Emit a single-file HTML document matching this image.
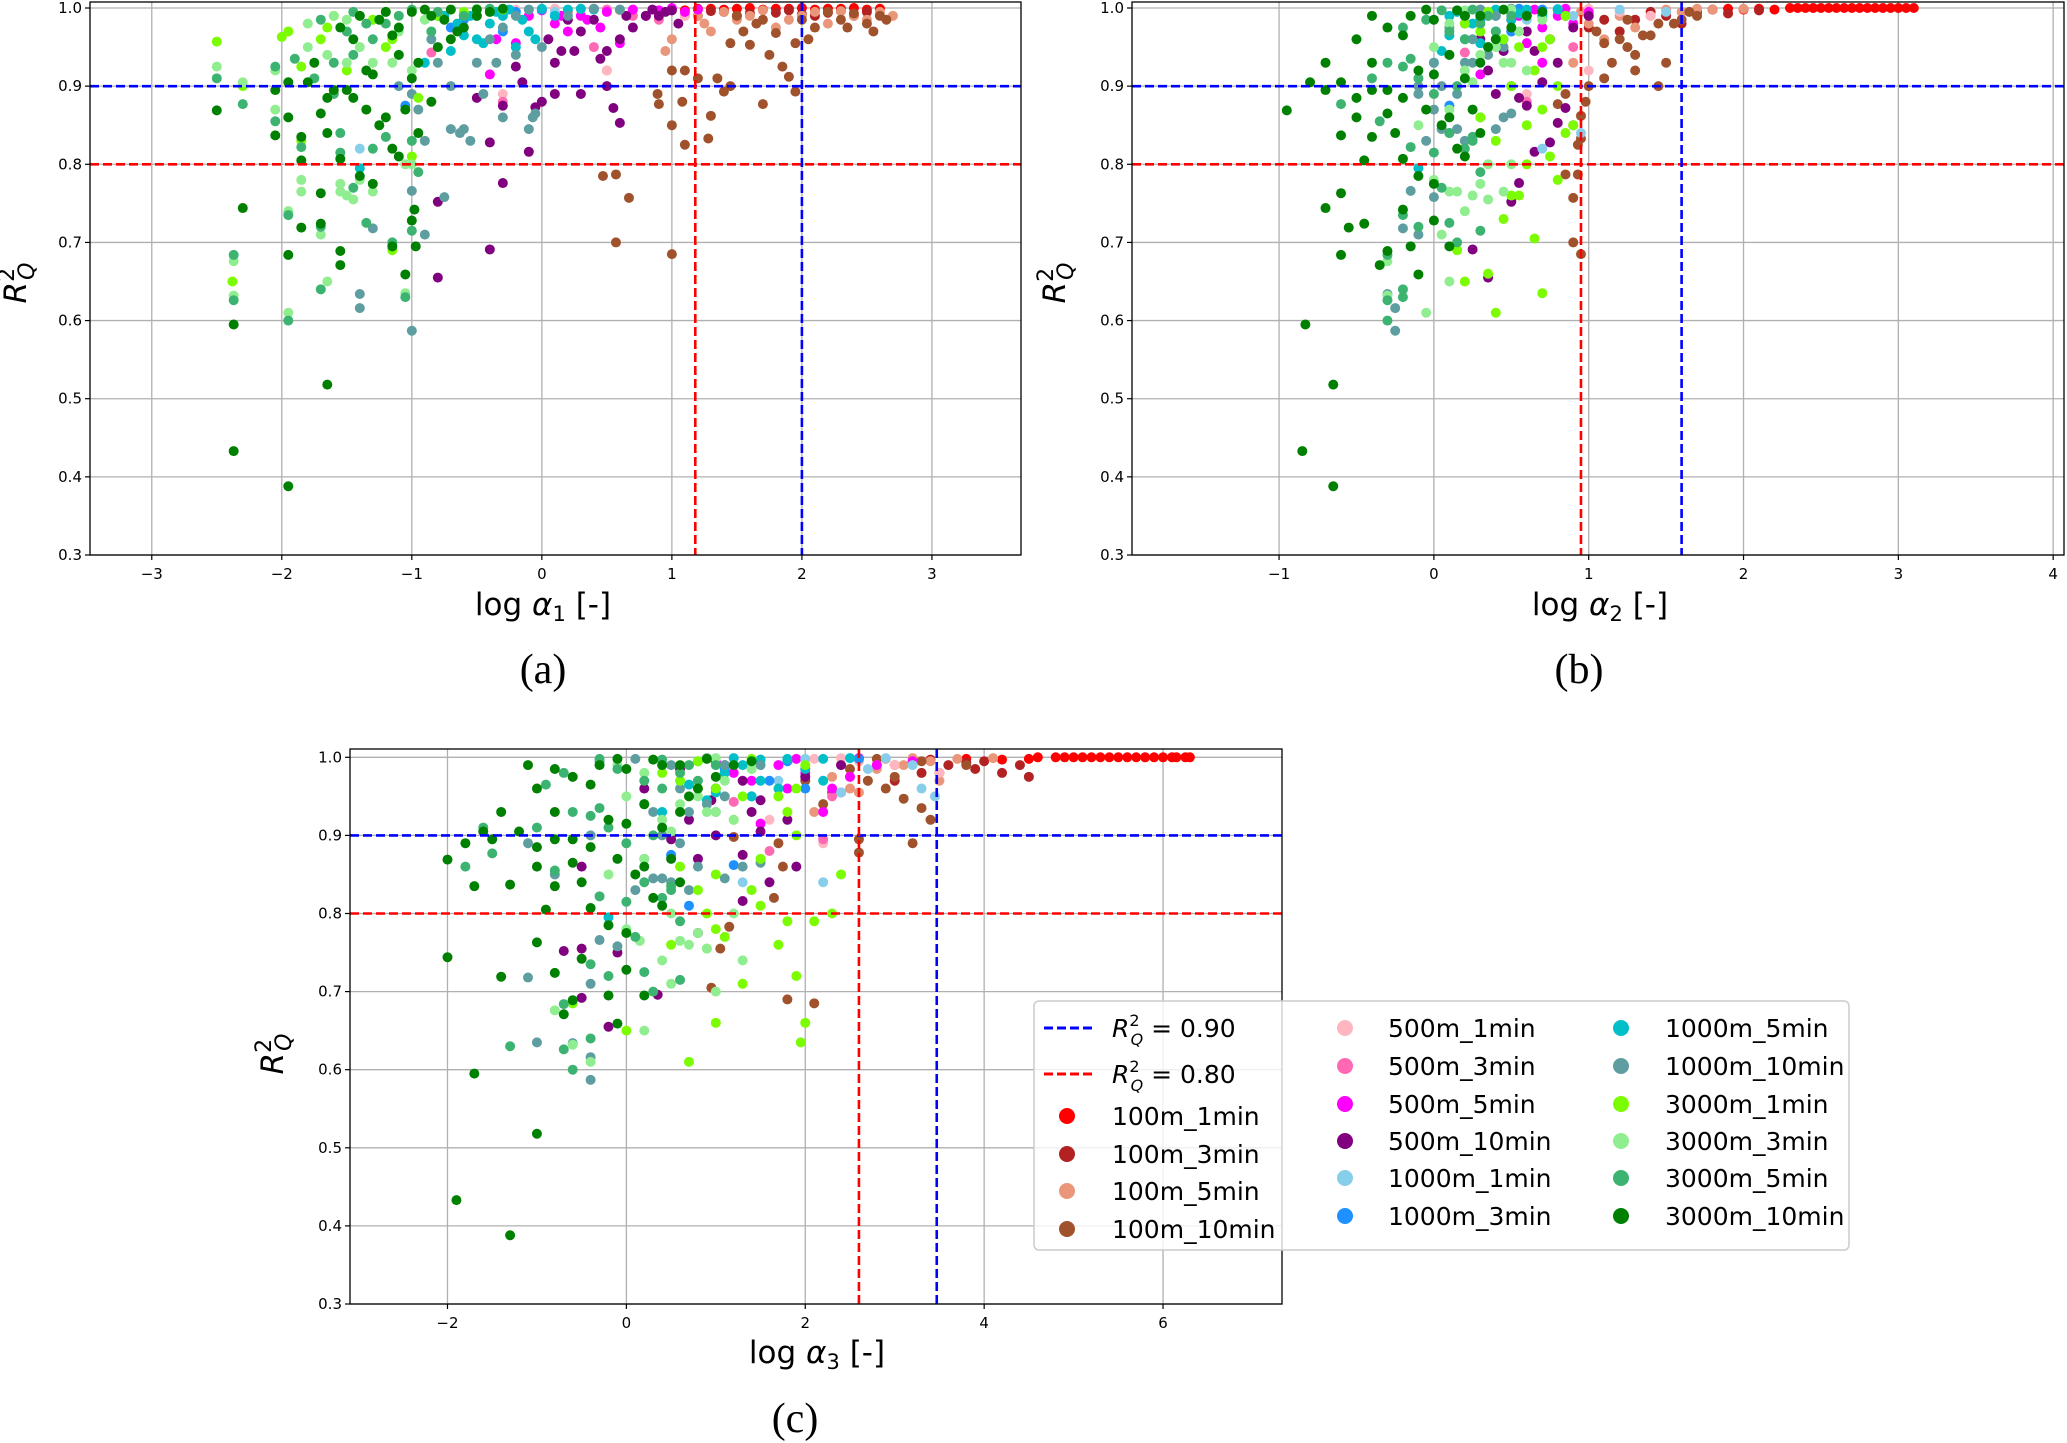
<!DOCTYPE html>
<html><head><meta charset="utf-8"><style>
html,body{margin:0;padding:0;background:#fff;}
svg{display:block;font-family:"DejaVu Sans","Liberation Sans",sans-serif;}
</style></head><body>
<svg id="fig" width="2067" height="1443" viewBox="0 0 2067 1443" xmlns="http://www.w3.org/2000/svg">
<rect width="2067" height="1443" fill="#fff"/>
<g id="panels"></g>
<g>
 <rect x="1034" y="1001" width="815" height="249" rx="5" fill="#fff" fill-opacity="0.8" stroke="#cccccc" stroke-width="1.5"/>
 <line x1="1044" y1="1028" x2="1093" y2="1028" stroke="#0000ff" stroke-width="3" stroke-dasharray="9,4"/>
 <text x="1112" y="1037" font-size="25"><tspan font-style="italic">R</tspan><tspan font-size="16" dy="-11">2</tspan><tspan font-size="16" font-style="italic" dx="-9" dy="19">Q</tspan><tspan dy="-8"> = 0.90</tspan></text>
 <line x1="1044" y1="1074" x2="1093" y2="1074" stroke="#ff0000" stroke-width="3" stroke-dasharray="9,4"/>
 <text x="1112" y="1083" font-size="25"><tspan font-style="italic">R</tspan><tspan font-size="16" dy="-11">2</tspan><tspan font-size="16" font-style="italic" dx="-9" dy="19">Q</tspan><tspan dy="-8"> = 0.80</tspan></text>
 <g id="legitems"></g>
</g>
</svg>
<script>
// ---------------- DATA ----------------
const seriesNames = ["100m_1min","100m_3min","100m_5min","100m_10min","500m_1min","500m_3min","500m_5min","500m_10min","1000m_1min","1000m_3min","1000m_5min","1000m_10min","3000m_1min","3000m_3min","3000m_5min","3000m_10min"];
const seriesColors = ["#ff0000","#b22222","#e9967a","#a0522d","#ffb6c1","#ff69b4","#ff00ff","#800080","#87ceeb","#1e90ff","#00bfc8","#5f9ea0","#7cfc00","#90ee90","#3cb371","#008000"];
const yTicks = [0.3,0.4,0.5,0.6,0.7,0.8,0.9,1.0];
const xTicksA = [-3,-2,-1,0,1,2,3];
const xTicksB = [-1,0,1,2,3,4];
const xTicksC = [-2,0,2,4,6];
const thresholdsA = [1.18,2.0];
const thresholdsB = [0.95,1.60];
const thresholdsC = [2.6,3.47];
const rLevels = [0.9,0.8];

const A0=[[1.0,0.998],[1.2,0.999],[1.4,0.998],[1.6,1],[1.8,0.999],[2.0,1],[2.2,0.999],[2.4,1],[2.6,0.999],[1.1,0.997],[1.3,0.999],[1.5,0.999],[1.7,0.998],[1.9,0.999],[2.1,0.998],[2.3,0.999],[2.5,0.998]];
const A1=[[1.2,0.99],[1.4,0.995],[1.6,0.993],[1.9,0.997],[2.1,0.99],[2.3,0.996],[2.5,0.995],[1.3,0.996],[1.5,0.99],[1.8,0.994],[2.0,0.992],[2.2,0.994],[2.4,0.99]];
const A2=[[0.5,0.92],[1.0,0.96],[1.3,0.97],[0.95,0.945],[1.2,0.99],[1.5,0.985],[1.8,0.975],[2.0,0.99],[2.2,0.98],[2.4,0.99],[2.6,0.995],[2.7,0.99],[1.1,0.99],[1.4,0.995],[1.6,0.99],[1.7,0.997],[1.9,0.985],[2.1,0.995],[2.3,0.996],[2.5,0.985],[1.25,0.98],[0.9,0.99]];
const A3=[[0.47,0.785],[0.57,0.787],[0.67,0.757],[0.57,0.70],[1.0,0.685],[1.1,0.825],[1.28,0.833],[1.0,0.85],[1.3,0.862],[0.89,0.89],[0.9,0.877],[1.08,0.88],[1.2,0.91],[1.35,0.91],[1.4,0.893],[1.45,0.9],[1.7,0.877],[1.95,0.893],[1.0,0.92],[1.1,0.92],[1.45,0.955],[1.6,0.953],[1.75,0.94],[1.85,0.925],[1.9,0.912],[1.8,0.968],[2.0,0.985],[2.1,0.975],[2.3,0.985],[2.5,0.98],[2.6,0.99],[2.65,0.985],[1.55,0.97],[2.2,0.995],[2.4,0.993],[1.65,0.98],[2.05,0.96],[2.35,0.975],[2.55,0.97],[1.95,0.955],[1.5,0.99],[1.7,0.985]];
const A4=[[-0.3,0.89],[0.5,0.92],[0.9,0.995],[0.3,0.998],[1.1,0.99],[0.6,0.997],[0.1,0.999],[-0.2,0.998]];
const A5=[[-0.85,0.943],[-0.3,0.88],[0.4,0.95],[0.7,0.99],[0.9,0.985],[0.2,0.995],[0.5,0.998]];
const A6=[[-0.4,0.915],[-0.35,0.96],[-0.2,0.955],[0.2,0.97],[0.3,0.99],[0.45,0.975],[0.6,0.955],[0.8,0.99],[1.0,1.0],[1.1,0.995],[1.2,0.998],[0.1,0.98],[0.5,0.995],[-0.1,0.99],[0.0,0.997],[0.4,0.999],[0.7,0.998],[0.9,0.997],[0.15,0.99],[0.35,0.985]];
const A7=[[-0.4,0.828],[-0.4,0.691],[-0.8,0.655],[-0.8,0.752],[-0.3,0.776],[-0.1,0.816],[-0.05,0.873],[0.0,0.88],[0.1,0.89],[-0.15,0.905],[-0.5,0.885],[-0.3,0.875],[0.3,0.89],[0.5,0.9],[0.55,0.872],[0.6,0.853],[0.1,0.93],[0.15,0.945],[0.25,0.945],[0.45,0.935],[0.5,0.945],[0.6,0.96],[0.7,0.975],[0.8,0.99],[0.9,0.99],[1.05,0.98],[0.3,0.97],[-0.2,0.925],[0.05,0.96],[0.95,0.995],[0.2,0.985],[0.65,0.99],[0.85,0.998],[1.0,0.997],[0.4,0.985]];
const A8=[[-1.4,0.82],[-1.5,0.97],[-0.3,0.99],[0.6,0.998],[-0.6,0.985],[0.1,0.995],[-0.1,0.998],[0.3,0.999],[-0.4,0.997]];
const A9=[[-1.05,0.875],[-0.6,0.985],[-0.3,0.97],[-0.5,0.99],[-0.8,0.99],[0.0,0.998],[-0.2,0.995],[-0.7,0.975]];
const A10=[[-0.3,0.99],[-0.5,0.96],[-0.6,0.965],[-0.1,0.97],[-0.2,0.95],[-0.7,0.945],[-0.4,0.98],[0.2,0.998],[0.4,0.998],[-0.9,0.93],[-1.4,0.795],[-0.45,0.955],[-0.05,0.96],[-0.15,0.985],[0.1,0.99],[-0.55,0.99],[-0.35,0.995],[-0.25,0.998],[0.0,0.999],[-0.65,0.98],[-0.75,0.99],[0.3,0.999]];
const A11=[[-1.0,0.587],[-1.4,0.634],[-1.4,0.616],[-0.9,0.71],[-0.75,0.758],[-0.7,0.845],[-0.63,0.84],[-0.6,0.845],[-0.55,0.83],[-1.0,0.766],[-0.95,0.87],[-0.9,0.83],[-1.3,0.718],[-0.1,0.845],[-0.07,0.86],[-0.05,0.865],[-0.3,0.86],[-0.35,0.93],[-0.5,0.93],[-0.8,0.93],[-0.7,0.9],[-1.1,0.9],[-0.45,0.89],[0.0,0.95],[-0.2,0.94],[-0.4,0.96],[-0.6,0.99],[-0.2,0.99],[0.2,0.99],[-1.0,0.89],[-0.1,0.998],[0.4,0.999],[0.6,0.998],[-0.85,0.96],[-0.3,0.975]];
const A12=[[-2.5,0.957],[-2.38,0.65],[-2.0,0.963],[-1.95,0.97],[-1.85,0.83],[-1.65,0.975],[-1.4,0.99],[-1.15,0.69],[-1.15,0.96],[-1.0,0.81],[-1.5,0.92],[-1.3,0.985],[-0.95,0.885],[-1.7,0.96],[-1.85,0.925],[-2.3,0.9],[-0.8,0.99],[-1.2,0.95],[-0.6,0.995],[-1.6,0.99],[-1.0,0.997],[-0.3,0.998]];
const A13=[[-2.37,0.676],[-2.37,0.632],[-1.95,0.61],[-1.95,0.74],[-1.85,0.78],[-1.85,0.765],[-1.7,0.71],[-1.65,0.65],[-1.55,0.765],[-1.55,0.775],[-1.5,0.76],[-1.45,0.755],[-1.3,0.765],[-1.05,0.635],[-1.05,0.8],[-1.0,0.8],[-2.5,0.925],[-2.05,0.87],[-2.05,0.92],[-1.8,0.95],[-1.65,0.94],[-1.5,0.93],[-1.3,0.93],[-1.15,0.93],[-1.0,0.92],[-1.1,0.97],[-1.4,0.95],[-0.9,0.985],[-1.8,0.98],[-1.6,0.99],[-2.3,0.905],[-1.4,0.78],[-1.2,0.995],[-0.7,0.998],[-0.5,0.999],[-1.5,0.985]];
const A14=[[-2.37,0.684],[-2.37,0.626],[-2.3,0.877],[-2.5,0.91],[-2.05,0.855],[-2.05,0.925],[-1.95,0.735],[-1.95,0.6],[-1.85,0.822],[-1.7,0.72],[-1.7,0.64],[-1.55,0.815],[-1.55,0.84],[-1.45,0.77],[-1.35,0.725],[-1.3,0.82],[-1.2,0.835],[-1.15,0.7],[-1.05,0.63],[-1.0,0.715],[-1.0,0.83],[-0.95,0.79],[-1.9,0.935],[-1.75,0.91],[-1.6,0.89],[-1.45,0.94],[-1.3,0.96],[-1.2,0.98],[-1.1,0.99],[-1.5,0.97],[-1.7,0.985],[-0.85,0.97],[-0.6,0.99],[-1.6,0.93],[-1.45,0.995],[-1.0,0.998],[-0.8,0.995],[-0.4,0.999],[-1.35,0.98]];
const A15=[[-2.37,0.433],[-1.95,0.388],[-1.65,0.518],[-2.37,0.595],[-2.5,0.869],[-2.3,0.744],[-1.95,0.684],[-1.85,0.719],[-1.7,0.763],[-1.7,0.724],[-1.55,0.671],[-1.55,0.689],[-1.15,0.695],[-1.05,0.659],[-1.0,0.728],[-0.98,0.742],[-0.97,0.695],[-2.05,0.837],[-2.05,0.895],[-1.95,0.86],[-1.85,0.805],[-1.85,0.835],[-1.7,0.865],[-1.65,0.84],[-1.55,0.807],[-1.4,0.785],[-1.3,0.775],[-1.35,0.87],[-1.25,0.85],[-1.2,0.86],[-1.15,0.82],[-1.1,0.81],[-1.05,0.87],[-0.95,0.84],[-0.85,0.88],[-1.95,0.905],[-1.8,0.905],[-1.65,0.885],[-1.6,0.895],[-1.5,0.895],[-1.45,0.885],[-1.35,0.92],[-1.3,0.915],[-1.1,0.94],[-1.0,0.91],[-0.95,0.93],[-0.8,0.95],[-0.7,0.96],[-0.6,0.975],[-0.5,0.99],[-1.15,0.965],[-1.25,0.985],[-0.85,0.99],[-1.75,0.93],[-0.4,0.995],[-0.75,0.985],[-1.45,0.96],[-1.4,0.99],[-1.2,0.995],[-1.0,0.995],[-0.9,0.998],[-0.7,0.998],[-0.5,0.998],[-0.3,0.999],[-1.1,0.975],[-0.65,0.97],[-1.55,0.975]];

const B0=[[1.8,0.998],[2.0,0.998],[2.2,0.998],[2.3,1],[2.4,1],[2.5,1],[2.6,1],[2.7,1],[2.8,1],[2.9,1],[3.0,1],[3.1,1],[2.35,1],[2.45,1],[2.55,1],[2.65,1],[2.75,1],[2.85,1],[2.95,1],[3.05,1],[2.1,0.999],[1.9,0.999]];
const B1=[[1.5,0.99],[1.7,0.995],[1.9,0.993],[2.1,0.997],[1.3,0.985],[1.6,0.98],[1.2,0.97],[1.4,0.995],[1.8,0.998],[1.1,0.985],[1.0,0.975]];
const B2=[[0.9,0.93],[1.1,0.96],[1.2,0.99],[1.4,0.99],[1.6,0.995],[1.8,0.998],[2.0,0.999],[1.0,0.98],[1.3,0.975],[1.5,0.998],[1.7,0.999],[0.95,0.995]];
const B3=[[0.95,0.685],[0.9,0.757],[0.85,0.787],[0.93,0.787],[0.9,0.70],[0.93,0.825],[0.95,0.833],[0.9,0.85],[0.95,0.862],[0.8,0.877],[0.85,0.89],[0.98,0.88],[1.0,0.9],[1.1,0.91],[1.15,0.93],[1.25,0.95],[1.3,0.94],[1.35,0.965],[1.4,0.965],[1.45,0.98],[1.6,0.985],[1.3,0.92],[1.7,0.99],[1.2,0.96],[1.45,0.9],[1.5,0.93],[1.1,0.955],[1.55,0.98],[1.05,0.97],[1.65,0.995],[1.25,0.985]];
const B4=[[0.6,0.89],[1.0,0.92],[1.2,0.995],[0.8,0.998],[1.4,0.99],[1.0,0.999],[0.6,0.997]];
const B5=[[0.2,0.943],[0.6,0.88],[0.9,0.95],[1.0,0.99],[0.5,0.985],[0.8,0.997]];
const B6=[[0.3,0.915],[0.4,0.96],[0.5,0.97],[0.6,0.955],[0.7,0.975],[0.8,0.99],[1.0,0.995],[0.9,0.98],[0.55,0.99],[0.2,0.98],[0.7,0.93],[0.4,0.997],[0.65,0.998],[0.85,0.999]];
const B7=[[0.25,0.691],[0.35,0.655],[0.5,0.752],[0.55,0.776],[0.65,0.816],[0.75,0.828],[0.8,0.853],[0.85,0.872],[0.6,0.875],[0.55,0.885],[0.4,0.89],[0.5,0.9],[0.7,0.905],[0.8,0.93],[0.65,0.945],[0.75,0.96],[0.9,0.975],[1.0,0.99],[0.35,0.92],[0.45,0.945],[0.6,0.97],[0.3,0.96],[0.85,0.99],[0.7,0.995],[0.5,0.985]];
const B8=[[0.7,0.82],[0.5,0.97],[0.9,0.99],[1.2,0.998],[0.6,0.985],[1.5,0.995],[0.95,0.84],[0.3,0.998],[0.8,0.999]];
const B9=[[0.1,0.875],[0.3,0.985],[0.5,0.97],[0.4,0.99],[0.2,0.99],[0.7,0.998],[0.55,0.999]];
const B10=[[0.3,0.99],[0.2,0.96],[0.1,0.965],[0.4,0.97],[0.35,0.95],[0.05,0.945],[0.25,0.98],[0.6,0.998],[0.8,0.998],[0.0,0.93],[-0.1,0.795],[0.3,0.955],[0.45,0.96],[0.5,0.985],[0.7,0.99],[0.15,0.995],[0.4,0.998],[0.55,0.993],[0.1,0.99]];
const B11=[[-0.25,0.587],[-0.3,0.634],[-0.25,0.616],[-0.1,0.71],[0.0,0.758],[0.05,0.845],[0.1,0.84],[0.15,0.845],[0.2,0.83],[-0.15,0.766],[0.0,0.87],[-0.05,0.83],[-0.2,0.718],[0.4,0.845],[0.45,0.86],[0.5,0.865],[0.3,0.86],[0.25,0.93],[0.2,0.93],[0.0,0.93],[0.05,0.9],[-0.1,0.9],[0.15,0.89],[0.45,0.95],[0.35,0.94],[0.25,0.96],[0.2,0.99],[0.4,0.99],[0.6,0.99],[-0.1,0.89],[0.1,0.975],[0.3,0.998],[0.5,0.999]];
const B12=[[0.2,0.65],[0.7,0.635],[0.4,0.61],[0.35,0.66],[0.15,0.69],[0.5,0.76],[0.55,0.76],[0.6,0.8],[0.75,0.81],[0.8,0.78],[0.45,0.73],[0.65,0.705],[0.85,0.84],[0.9,0.85],[0.6,0.85],[0.7,0.87],[0.8,0.9],[0.5,0.9],[0.65,0.92],[0.3,0.86],[0.4,0.83],[0.55,0.95],[0.7,0.95],[0.3,0.97],[0.85,0.99],[0.2,0.98],[0.75,0.96],[0.45,0.96],[0.6,0.99],[0.35,0.995]];
const B13=[[-0.3,0.632],[-0.05,0.61],[0.1,0.65],[0.2,0.74],[0.0,0.78],[0.1,0.765],[0.05,0.71],[0.15,0.765],[0.3,0.775],[0.25,0.76],[0.35,0.755],[0.45,0.765],[0.5,0.8],[0.35,0.8],[-0.3,0.676],[0.1,0.87],[0.2,0.92],[0.0,0.95],[0.3,0.94],[0.45,0.93],[0.5,0.93],[0.6,0.92],[0.55,0.97],[0.4,0.95],[0.7,0.985],[0.1,0.98],[0.35,0.99],[0.25,0.905],[-0.1,0.85],[0.2,0.997],[0.5,0.998]];
const B14=[[-0.3,0.684],[-0.3,0.626],[-0.6,0.877],[-0.4,0.91],[-0.35,0.855],[-0.2,0.925],[-0.2,0.735],[-0.3,0.6],[-0.15,0.822],[-0.1,0.72],[-0.2,0.64],[0.0,0.815],[0.1,0.84],[0.05,0.77],[0.1,0.725],[0.2,0.82],[0.25,0.835],[0.15,0.7],[-0.2,0.63],[0.3,0.715],[0.25,0.83],[0.3,0.79],[-0.15,0.935],[-0.1,0.91],[0.0,0.89],[0.1,0.94],[0.2,0.96],[0.3,0.98],[0.35,0.99],[0.1,0.97],[-0.05,0.985],[0.4,0.97],[0.5,0.99],[-0.3,0.93],[0.15,0.9],[0.05,0.997],[0.25,0.998],[-0.2,0.975]];
const B15=[[-0.85,0.433],[-0.65,0.388],[-0.65,0.518],[-0.83,0.595],[-0.95,0.869],[-0.7,0.744],[-0.6,0.684],[-0.55,0.719],[-0.6,0.763],[-0.45,0.724],[-0.35,0.671],[-0.3,0.689],[-0.15,0.695],[-0.1,0.659],[0.0,0.728],[-0.2,0.742],[0.1,0.695],[-0.6,0.837],[-0.7,0.895],[-0.5,0.86],[-0.45,0.805],[-0.4,0.835],[-0.3,0.865],[-0.25,0.84],[-0.2,0.807],[-0.1,0.785],[0.0,0.775],[-0.05,0.87],[0.05,0.85],[0.1,0.86],[0.15,0.82],[0.2,0.81],[0.25,0.87],[0.3,0.84],[-0.8,0.905],[-0.6,0.905],[-0.5,0.885],[-0.4,0.895],[-0.3,0.895],[-0.2,0.885],[-0.1,0.92],[0.0,0.915],[0.1,0.94],[0.2,0.91],[0.3,0.93],[0.35,0.95],[0.4,0.96],[0.5,0.975],[0.6,0.99],[-0.2,0.965],[0.0,0.985],[0.3,0.99],[-0.4,0.93],[0.7,0.995],[-0.7,0.93],[-0.5,0.96],[0.2,0.99],[-0.15,0.99],[-0.3,0.975],[-0.05,0.998],[0.15,0.997],[0.45,0.998],[-0.4,0.99]];

const C0=[[3.8,0.998],[4.2,0.997],[4.5,0.998],[4.6,1],[4.8,1],[5.0,1],[5.2,1],[5.4,1],[5.6,1],[5.8,1],[6.0,1],[6.15,1],[6.3,1],[4.9,1],[5.1,1],[5.3,1],[5.5,1],[5.7,1],[5.9,1],[6.1,1],[6.25,1]];
const C1=[[4.5,0.975],[4.2,0.98],[3.9,0.985],[3.6,0.99],[4.0,0.995],[3.3,0.98],[3.0,0.97],[4.4,0.99],[3.4,0.997],[3.8,0.993]];
const C2=[[2.1,0.93],[2.5,0.96],[2.8,0.985],[3.1,0.99],[3.4,0.995],[3.7,0.998],[4.1,0.999],[2.3,0.975],[2.7,0.97],[2.6,0.955],[3.5,0.97],[2.9,0.998],[3.2,0.999],[2.4,0.99]];
const C3=[[2.6,0.878],[2.7,0.97],[2.9,0.96],[3.1,0.947],[3.3,0.935],[3.4,0.92],[3.2,0.89],[2.5,0.985],[3.0,0.99],[2.3,0.955],[2.2,0.94],[2.0,0.97],[1.7,0.89],[1.75,0.86],[1.2,0.898],[1.15,0.783],[2.6,0.895],[3.0,0.975],[3.5,0.98],[3.8,0.99],[1.65,0.82],[1.05,0.755],[0.95,0.705],[1.8,0.69],[2.1,0.685],[2.8,0.998],[3.3,0.995]];
const C4=[[2.2,0.89],[1.6,0.92],[2.6,0.995],[2.1,0.998],[3.0,0.99],[3.5,0.98],[2.4,0.999],[1.8,0.997]];
const C5=[[1.2,0.943],[1.6,0.88],[2.3,0.95],[2.8,0.99],[2.0,0.985],[2.2,0.895],[1.5,0.997]];
const C6=[[1.5,0.915],[1.8,0.96],[1.4,0.97],[2.4,0.955],[2.5,0.975],[2.8,0.99],[3.2,0.995],[2.0,0.98],[1.7,0.99],[1.2,0.98],[2.2,0.93],[2.3,0.96],[1.9,0.998],[2.6,0.999],[1.0,0.995]];
const C7=[[-0.5,0.692],[-0.2,0.655],[0.35,0.696],[-0.7,0.752],[-0.5,0.755],[0.8,0.775],[1.3,0.816],[1.6,0.84],[1.9,0.86],[-0.5,0.86],[0.8,0.87],[1.3,0.875],[0.5,0.895],[1.0,0.9],[1.5,0.905],[1.8,0.92],[1.4,0.93],[1.5,0.945],[1.0,0.96],[2.0,0.975],[2.4,0.99],[0.7,0.92],[0.95,0.945],[1.3,0.97],[0.2,0.96],[-0.1,0.75],[1.1,0.99],[0.6,0.985]];
const C8=[[2.2,0.84],[2.4,0.955],[3.3,0.96],[3.2,0.99],[2.7,0.985],[1.7,0.97],[3.45,0.95],[1.3,0.84],[2.0,0.998],[2.9,0.999],[1.5,0.995]];
const C9=[[1.2,0.862],[0.5,0.875],[0.7,0.81],[2.0,0.96],[1.6,0.97],[1.1,0.985],[2.6,0.998],[1.4,0.95],[1.8,0.995]];
const C10=[[1.3,0.99],[1.0,0.96],[0.7,0.965],[1.5,0.97],[1.4,0.95],[0.9,0.945],[1.1,0.98],[1.8,0.998],[2.2,0.998],[0.4,0.93],[-0.2,0.795],[1.0,0.955],[1.7,0.96],[2.0,0.985],[2.2,0.97],[0.8,0.995],[1.5,0.997],[2.5,0.999],[1.2,0.999]];
const C11=[[-0.4,0.587],[-0.6,0.634],[-0.4,0.616],[-0.4,0.71],[-0.1,0.758],[0.4,0.845],[0.5,0.84],[0.3,0.845],[0.7,0.83],[-0.3,0.766],[0.2,0.87],[0.1,0.83],[-1.1,0.718],[1.1,0.845],[1.3,0.86],[1.5,0.865],[0.8,0.86],[1.0,0.93],[0.7,0.93],[0.3,0.93],[0.4,0.9],[-0.4,0.9],[0.6,0.89],[1.1,0.95],[0.9,0.94],[0.6,0.96],[0.5,0.99],[1.1,0.99],[1.5,0.99],[-1.1,0.89],[-0.8,0.85],[-1.0,0.635],[0.1,0.998],[0.9,0.999],[-0.3,0.995]];
const C12=[[1.0,0.66],[1.95,0.635],[0.7,0.61],[0.0,0.65],[-0.6,0.685],[0.5,0.76],[1.1,0.77],[1.5,0.81],[1.8,0.79],[2.1,0.79],[1.7,0.76],[1.9,0.72],[2.0,0.66],[1.3,0.71],[1.4,0.83],[0.9,0.8],[1.0,0.85],[1.5,0.87],[1.9,0.9],[1.2,0.92],[1.8,0.93],[0.6,0.86],[0.8,0.83],[1.3,0.95],[1.7,0.95],[0.6,0.97],[2.0,0.99],[0.4,0.98],[1.9,0.96],[1.0,0.96],[2.4,0.85],[2.3,0.8],[1.0,0.78],[0.9,0.755],[1.4,0.998],[0.8,0.995]];
const C13=[[-0.6,0.632],[-0.4,0.61],[0.2,0.65],[0.4,0.74],[0.0,0.78],[0.6,0.765],[0.5,0.71],[0.15,0.765],[0.8,0.775],[0.7,0.76],[0.9,0.755],[1.0,0.7],[1.2,0.8],[0.5,0.8],[-0.8,0.676],[0.2,0.87],[0.4,0.92],[0.0,0.95],[0.6,0.94],[0.9,0.93],[1.0,0.93],[1.2,0.92],[1.1,0.97],[0.8,0.95],[1.4,0.985],[0.2,0.98],[0.7,0.99],[0.5,0.905],[-0.2,0.85],[1.3,0.74],[0.3,0.997],[1.0,0.999],[-0.1,0.99]];
const C14=[[-0.7,0.684],[-0.7,0.626],[-1.5,0.877],[-1.0,0.91],[-0.8,0.855],[-0.4,0.925],[-0.4,0.735],[-0.6,0.6],[-0.3,0.822],[-0.2,0.72],[-0.4,0.64],[0.0,0.815],[0.2,0.84],[0.1,0.77],[0.2,0.725],[0.4,0.82],[0.5,0.835],[0.3,0.7],[-1.3,0.63],[0.6,0.715],[0.5,0.83],[0.6,0.79],[-0.3,0.935],[-0.2,0.91],[0.0,0.89],[0.2,0.94],[0.4,0.96],[0.6,0.98],[0.7,0.99],[0.2,0.97],[-0.1,0.985],[0.8,0.97],[1.0,0.99],[-0.6,0.93],[0.3,0.9],[-1.8,0.86],[-1.6,0.91],[-0.9,0.965],[-0.3,0.998],[0.4,0.997],[-0.7,0.98]];
const C15=[[-1.9,0.433],[-1.3,0.388],[-1.0,0.518],[-1.7,0.595],[-2.0,0.869],[-2.0,0.744],[-1.4,0.719],[-1.0,0.763],[-0.8,0.724],[-0.7,0.671],[-0.6,0.689],[-0.2,0.695],[-0.1,0.659],[0.0,0.728],[-0.5,0.742],[0.2,0.695],[-1.3,0.837],[-1.5,0.895],[-1.0,0.86],[-0.9,0.805],[-0.8,0.835],[-0.6,0.865],[-0.5,0.84],[-0.4,0.807],[-0.2,0.785],[0.0,0.775],[-0.1,0.87],[0.1,0.85],[0.2,0.86],[0.3,0.82],[0.4,0.81],[0.5,0.87],[0.6,0.84],[-1.6,0.905],[-1.2,0.905],[-1.0,0.885],[-0.8,0.895],[-0.6,0.895],[-0.4,0.885],[-0.2,0.92],[0.0,0.915],[0.2,0.94],[0.4,0.91],[0.6,0.93],[0.7,0.95],[0.8,0.96],[1.0,0.975],[1.2,0.99],[-0.4,0.965],[0.0,0.985],[0.6,0.99],[-0.8,0.93],[1.4,0.995],[-1.4,0.93],[-1.0,0.96],[0.4,0.99],[-0.3,0.99],[-1.1,0.99],[-1.8,0.89],[-1.7,0.835],[-0.6,0.975],[-0.1,0.998],[0.3,0.997],[0.9,0.998],[-0.8,0.985]];

const seriesA=[A0,A1,A2,A3,A4,A5,A6,A7,A8,A9,A10,A11,A12,A13,A14,A15];
const seriesB=[B0,B1,B2,B3,B4,B5,B6,B7,B8,B9,B10,B11,B12,B13,B14,B15];
const seriesC=[C0,C1,C2,C3,C4,C5,C6,C7,C8,C9,C10,C11,C12,C13,C14,C15];

// ---------------- DRAW ----------------
const NS="http://www.w3.org/2000/svg";
function mk(tag,attrs,parent){const e=document.createElementNS(NS,tag);for(const k in attrs)e.setAttribute(k,attrs[k]);parent.appendChild(e);return e;}
const root=document.getElementById('panels');
const panels=[
 {id:'a',L:90,R:1021,T:2,B:555,y1:8,xmin:-3.475,xmax:3.685,ticks:xTicksA,data:seriesA,th:thresholdsA,sub:'1',lab:[543,615],cap:[543,683],cap_t:'(a)',yl:[26,283]},
 {id:'b',L:1132,R:2064,T:2,B:555,y1:8,xmin:-1.95,xmax:4.07,ticks:xTicksB,data:seriesB,th:thresholdsB,sub:'2',lab:[1600,615],cap:[1579,683],cap_t:'(b)',yl:[1065,283]},
 {id:'c',L:350,R:1282,T:749,B:1304,y1:757.3,xmin:-3.09,xmax:7.33,ticks:xTicksC,data:seriesC,th:thresholdsC,sub:'3',lab:[817,1363],cap:[795,1432],cap_t:'(c)',yl:[283,1054]}
];
panels.forEach(p=>{
 const g=mk('g',{},root);
 
 
 const sx=v=>p.L+(v-p.xmin)/(p.xmax-p.xmin)*(p.R-p.L);
 const sy=v=>p.B-(v-0.3)/0.7*(p.B-p.y1);
 const clipId='clip'+p.id;
 const cp=mk('clipPath',{id:clipId},g);mk('rect',{x:p.L,y:p.T,width:p.R-p.L,height:p.B-p.T},cp);
 yTicks.forEach(t=>{const l=mk('line',{x1:p.L,x2:p.R,y1:sy(t),y2:sy(t),stroke:'#b0b0b0','stroke-width':1.3},g);
  
  
  mk('line',{x1:p.L-5,x2:p.L,y1:sy(t),y2:sy(t),stroke:'#000','stroke-width':1.2},g);
  const tx=mk('text',{x:p.L-8,y:sy(t)+5,'font-size':15,'text-anchor':'end'},g);tx.textContent=t.toFixed(1);
  
  });
 p.ticks.forEach(t=>{const l=mk('line',{x1:sx(t),x2:sx(t),y1:p.T,y2:p.B,stroke:'#b0b0b0','stroke-width':1.3},g);
  
  
  mk('line',{x1:sx(t),x2:sx(t),y1:p.B,y2:p.B+5,stroke:'#000','stroke-width':1.2},g);
  const tx=mk('text',{x:sx(t),y:p.B+24,'font-size':15,'text-anchor':'middle'},g);tx.textContent=(t<0?'\u2212'+(-t):String(t));
  
  });
 const pg=mk('g',{'clip-path':'url(#'+clipId+')'},g);
 p.data.forEach((s,si)=>{const sg=mk('g',{fill:seriesColors[si]},pg);
  
  
  s.forEach(d=>{const c=mk('circle',{cx:sx(d[0]),cy:sy(d[1]),r:5},sg);
   
   });});
 const colors=['#0000ff','#ff0000'];
 rLevels.forEach((r,i)=>{const l=mk('line',{x1:p.L,x2:p.R,y1:sy(r),y2:sy(r),stroke:colors[i],'stroke-width':2.6,'stroke-dasharray':'9,4'},g);
  
  });
 [[p.th[0],'#ff0000'],[p.th[1],'#0000ff']].forEach(t=>{const l=mk('line',{x1:sx(t[0]),x2:sx(t[0]),y1:p.T,y2:p.B,stroke:t[1],'stroke-width':2.6,'stroke-dasharray':'9,4'},g);
  
  });
 const fr=mk('rect',{x:p.L,y:p.T,width:p.R-p.L,height:p.B-p.T,fill:'none',stroke:'#000','stroke-width':1.3},g);
 
 
 const xl=mk('text',{x:p.lab[0],y:p.lab[1],'font-size':31,'text-anchor':'middle'},g);
 xl.innerHTML='log <tspan font-style="italic">α</tspan><tspan font-size="21" dy="6">'+p.sub+'</tspan><tspan dy="-6"> [-]</tspan>';
 
 
 const yl=mk('text',{transform:'translate('+p.yl[0]+','+p.yl[1]+') rotate(-90)','font-size':31,'text-anchor':'middle'},g);
 yl.innerHTML='<tspan font-style="italic">R</tspan><tspan font-size="22" dy="-12">2</tspan><tspan font-size="22" font-style="italic" dx="-12" dy="20">Q</tspan>';
 
 
 const cap=mk('text',{x:p.cap[0],y:p.cap[1],'font-size':42,'text-anchor':'middle','font-family':'Liberation Serif, serif'},g);
 cap.textContent=p.cap_t;
 
 
});
const lg=document.getElementById('legitems');
const legPos=[[1067,1112,1116],[1067,1112,1154],[1067,1112,1191],[1067,1112,1229],
 [1345,1388,1028],[1345,1388,1066],[1345,1388,1104],[1345,1388,1141],[1345,1388,1178],[1345,1388,1216],
 [1621,1665,1028],[1621,1665,1066],[1621,1665,1104],[1621,1665,1141],[1621,1665,1178],[1621,1665,1216]];
seriesNames.forEach((n,i)=>{const q=legPos[i];
 const c=mk('circle',{cx:q[0],cy:q[2],r:8,fill:seriesColors[i]},lg);
 
 
 const t=mk('text',{x:q[1],y:q[2]+9,'font-size':25},lg);t.textContent=n;
 
 });
</script>
</body></html>
